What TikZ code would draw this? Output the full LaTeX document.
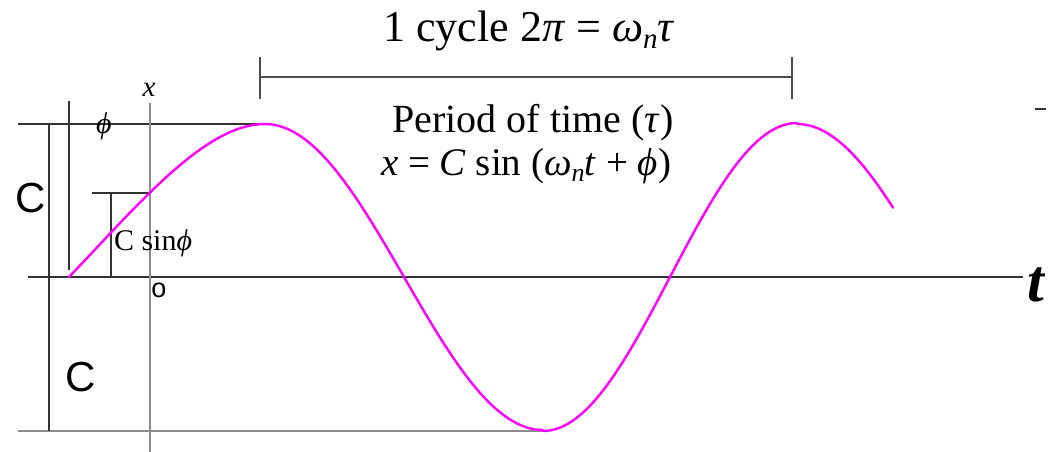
\documentclass[tikz,border=0pt]{standalone}
\usepackage{fontspec}
\setmainfont{Liberation Serif}
\newfontfamily\arialfont{Liberation Sans}
\definecolor{wavepink}{RGB}{255,0,255}
\begin{document}
\begin{tikzpicture}[x=1pt,y=-1pt,
  axisline/.style={draw=black!80,line width=1.3pt},
  grayline/.style={draw=black!45,line width=2pt},
  thinline/.style={draw=black!80,line width=1.1pt},
  wave/.style={draw=wavepink,line width=2.4pt},
  lbl/.style={inner sep=0pt,outer sep=0pt}]
\useasboundingbox[fill=white] (0,0) rectangle (1050,452);
% coordinates
\coordinate (axL) at (28,277);
\coordinate (axR) at (1023,277);
\coordinate (topL) at (18,124);
\coordinate (peak1) at (265,124);
\coordinate (botL) at (18,431);
\coordinate (trough) at (543,431);
\coordinate (cTop) at (49,124);
\coordinate (cBot) at (49,431);
\coordinate (phT) at (69,101);
\coordinate (phB) at (69,270);
\coordinate (xT) at (150,103);
\coordinate (xB) at (150,452);
\coordinate (sL) at (92,193);
\coordinate (sR) at (150,193);
\coordinate (sV) at (111,193);
\coordinate (sVB) at (111,277);
\coordinate (barL) at (260,77);
\coordinate (barR) at (792,77);
\coordinate (tkLT) at (260,57);
\coordinate (tkLB) at (260,99);
\coordinate (tkRT) at (792,57);
\coordinate (tkRB) at (792,99);
\coordinate (dashL) at (1035,109);
\coordinate (dashR) at (1046,109);
\coordinate (wStart) at (69,277);
\coordinate (wc1) at (139,204);
\coordinate (wc2) at (205,124);
% lines
\draw[axisline] (axL) -- (axR);
\draw[thinline] (topL) -- (peak1);
\draw[grayline] (botL) -- (trough);
\draw[thinline] (cTop) -- (cBot);
\draw[thinline] (phT) -- (phB);
\draw[grayline] (xT) -- (xB);
\draw[thinline] (sL) -- (sR);
\draw[thinline] (sV) -- (sVB);
\draw[draw=black!70,line width=1.2pt] (barL) -- (barR);
\draw[draw=black!70,line width=1.2pt] (tkLT) -- (tkLB);
\draw[draw=black!70,line width=1.2pt] (tkRT) -- (tkRB);
\draw[thinline] (dashL) -- (dashR);
% wave
\draw[wave,line join=round,line cap=round]
  (wStart) .. controls (wc1) and (wc2) .. (peak1)
  -- plot[domain=265:543,samples=80] (\x,{277-153*cos((\x-265)/278*180)})
  -- plot[domain=543:797,samples=80] (\x,{277+154*cos((\x-543)/254*180)})
  -- plot[domain=797:893,samples=40] (\x,{277-153*cos((\x-797)/137*90)});
% texts
\node[lbl,anchor=base] (title) at (529,42) {\fontsize{44}{48}\selectfont 1 cycle 2\textit{π} = \textit{ω}\raisebox{-7pt}{\fontsize{29}{31}\selectfont\textit{n}}\textit{τ}};
\node[lbl,anchor=base] (period) at (533,132) {\fontsize{40}{44}\selectfont Period of time (\textit{τ})};
\node[lbl,anchor=base] (eqn) at (526,175) {\fontsize{39}{43}\selectfont \textit{x} = \textit{C} sin (\textit{ω}\raisebox{-6pt}{\fontsize{26}{28}\selectfont\textit{n}}\textit{t} + \textit{ϕ})};
\node[lbl] (xlab) at (149,90) {\fontsize{29}{31}\selectfont\textit{x}};
\node[lbl] (phlab) at (104,126) {\fontsize{30}{32}\selectfont\textit{ϕ}};
\node[lbl,anchor=base west] (csin) at (114,250) {\fontsize{30}{32}\selectfont C sin\textit{ϕ}};
\node[lbl] (c1) at (31,198) {\arialfont\fontsize{42}{44}\selectfont C};
\node[lbl] (c2) at (81,377) {\arialfont\fontsize{42}{44}\selectfont C};
\node[lbl] (olab) at (159,290) {\arialfont\fontsize{27}{29}\selectfont o};
\node[lbl] (tlab) at (1037,285) {\fontsize{60}{62}\selectfont\textbf{\textit{t}}};
\end{tikzpicture}
\end{document}
